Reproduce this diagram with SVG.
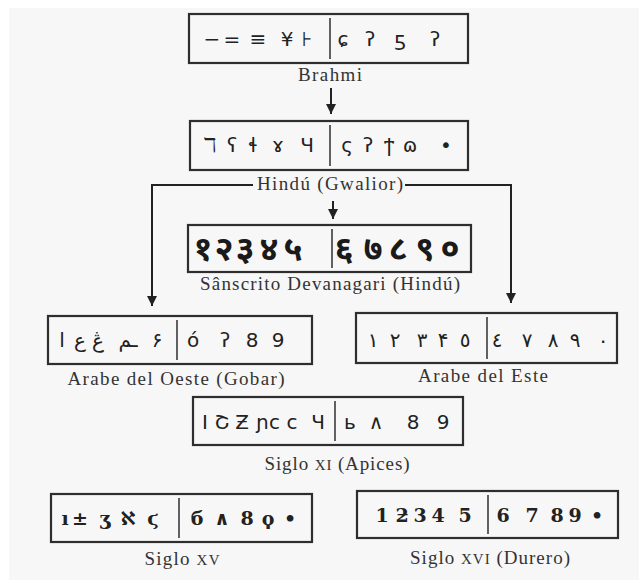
<svg xmlns="http://www.w3.org/2000/svg" width="644" height="583" viewBox="0 0 644 583">
<defs>
<style>
.box{fill:none;stroke:#2e2e2e;stroke-width:2.2}
.div{stroke:#3a3a3a;stroke-width:1.6}
.lbl{font-family:"Liberation Serif","Times New Roman",serif;font-size:19px;fill:#333;text-anchor:middle}
.g{font-family:"DejaVu Serif","DejaVu Sans",serif;font-size:19px;fill:#222;text-anchor:middle;font-weight:bold}
.gs{font-family:"DejaVu Sans","Noto Sans",sans-serif;font-size:20px;fill:#222;text-anchor:middle}
.dev{font-family:"Noto Sans","DejaVu Sans",sans-serif;font-size:34px;font-weight:bold;fill:#1a1a1a;text-anchor:middle}
.con{fill:none;stroke:#222;stroke-width:2}
</style>
<marker id="ah" markerWidth="10" markerHeight="10" refX="10" refY="5" orient="auto" markerUnits="userSpaceOnUse" viewBox="0 0 10 10">
<path d="M0,0 L10,5 L0,10 Z" fill="#222"/>
</marker>
</defs>
<rect x="0" y="0" width="644" height="583" fill="#ffffff"/>
<rect x="9" y="8" width="630" height="572" fill="#f7f7f7"/>

<g id="connectors">
<line class="con" x1="331" y1="88" x2="331" y2="114" marker-end="url(#ah)"/>
<line class="con" x1="333" y1="201" x2="333" y2="219" marker-end="url(#ah)"/>
<polyline class="con" points="253,185 152,185 152,306" marker-end="url(#ah)"/>
<polyline class="con" points="405,185 511,185 511,303" marker-end="url(#ah)"/>
</g>

<g id="brahmi">
<rect class="box" x="189" y="14" width="279" height="49"/>
<line class="div" x1="330" y1="18" x2="330" y2="59"/>
<text class="gs" y="46"><tspan x="212">−</tspan><tspan x="232">=</tspan><tspan x="258">≡</tspan><tspan x="287">¥</tspan><tspan x="307">⊦</tspan><tspan x="343">ɕ</tspan><tspan x="370">ʔ</tspan><tspan x="400">ƽ</tspan><tspan x="435">ʔ</tspan></text>
<text class="lbl" x="330" y="81" textLength="64" lengthAdjust="spacing">Brahmi</text>
</g>

<g id="gwalior">
<rect class="box" x="190" y="121" width="278" height="49"/>
<line class="div" x1="330" y1="125" x2="330" y2="166"/>
<text class="gs" y="152"><tspan x="210">ℸ</tspan><tspan x="232">ʕ</tspan><tspan x="253">ɬ</tspan><tspan x="278">ɤ</tspan><tspan x="307">Ч</tspan><tspan x="347">ς</tspan><tspan x="368">ʔ</tspan><tspan x="389">ϯ</tspan><tspan x="410">ɷ</tspan><tspan x="446">•</tspan></text>
<text class="lbl" x="330" y="190" textLength="146" lengthAdjust="spacing">Hindú (Gwalior)</text>
</g>

<g id="devanagari">
<rect class="box" x="188" y="225" width="283" height="47"/>
<line class="div" x1="332" y1="229" x2="332" y2="268"/>
<text class="dev" y="260"><tspan x="203">१</tspan><tspan x="224">२</tspan><tspan x="245">३</tspan><tspan x="269">४</tspan><tspan x="293">५</tspan><tspan x="344">६</tspan><tspan x="373">७</tspan><tspan x="398">८</tspan><tspan x="425">९</tspan><tspan x="450">०</tspan></text>
<text class="lbl" x="330" y="290" textLength="260" lengthAdjust="spacing">Sânscrito Devanagari (Hindú)</text>
</g>

<g id="arabe-oeste">
<rect class="box" x="48" y="316" width="264" height="48"/>
<line class="div" x1="177" y1="320" x2="177" y2="360"/>
<text class="gs" y="347"><tspan x="62">ا</tspan><tspan x="80">ع</tspan><tspan x="98">ڠ</tspan><tspan x="128">ـم</tspan><tspan x="157">۶</tspan><tspan x="193">ó</tspan><tspan x="225">ʔ</tspan><tspan x="252">8</tspan><tspan x="278">9</tspan></text>
<text class="lbl" x="176" y="385" textLength="217" lengthAdjust="spacing">Arabe del Oeste (Gobar)</text>
</g>

<g id="arabe-este">
<rect class="box" x="356" y="313" width="261" height="50"/>
<line class="div" x1="487" y1="317" x2="487" y2="359"/>
<text class="gs" y="347"><tspan x="373">١</tspan><tspan x="395">٢</tspan><tspan x="422">٣</tspan><tspan x="443">۴</tspan><tspan x="465">٥</tspan><tspan x="497">٤</tspan><tspan x="527">٧</tspan><tspan x="553">٨</tspan><tspan x="575">٩</tspan><tspan x="603">٠</tspan></text>
<text class="lbl" x="483" y="382" textLength="130" lengthAdjust="spacing">Arabe del Este</text>
</g>

<g id="siglo-xi">
<rect class="box" x="193" y="397" width="270" height="48"/>
<line class="div" x1="335" y1="401" x2="335" y2="441"/>
<text class="gs" y="429"><tspan x="205">I</tspan><tspan x="222">Շ</tspan><tspan x="242">Ƶ</tspan><tspan x="268">ɲc</tspan><tspan x="292">c</tspan><tspan x="318">Ч</tspan><tspan x="350">ь</tspan><tspan x="376">∧</tspan><tspan x="413">8</tspan><tspan x="443">9</tspan></text>
<text class="lbl" x="337" y="470" textLength="145" lengthAdjust="spacing">Siglo <tspan font-size="15">XI</tspan> (Apices)</text>
</g>

<g id="siglo-xv">
<rect class="box" x="51" y="494" width="261" height="48"/>
<line class="div" x1="179" y1="498" x2="179" y2="538"/>
<text class="g" y="525" font-size="17"><tspan x="65">ı</tspan><tspan x="80">±</tspan><tspan x="105">ʒ</tspan><tspan x="128">ℵ</tspan><tspan x="153">ϛ</tspan><tspan x="197">б</tspan><tspan x="222">∧</tspan><tspan x="247">8</tspan><tspan x="268">ϙ</tspan><tspan x="290">•</tspan></text>
<text class="lbl" x="182" y="565" textLength="75" lengthAdjust="spacing">Siglo <tspan font-size="15">XV</tspan></text>
</g>

<g id="siglo-xvi">
<rect class="box" x="357" y="491" width="261" height="47"/>
<line class="div" x1="488" y1="495" x2="488" y2="534"/>
<text class="g" y="522"><tspan x="382">1</tspan><tspan x="402">ƻ</tspan><tspan x="420">3</tspan><tspan x="438">4</tspan><tspan x="465">5</tspan><tspan x="503">6</tspan><tspan x="532">7</tspan><tspan x="557">8</tspan><tspan x="575">9</tspan><tspan x="597">•</tspan></text>
<text class="lbl" x="490" y="564" textLength="160" lengthAdjust="spacing">Siglo <tspan font-size="15">XVI</tspan> (Durero)</text>
</g>
</svg>
